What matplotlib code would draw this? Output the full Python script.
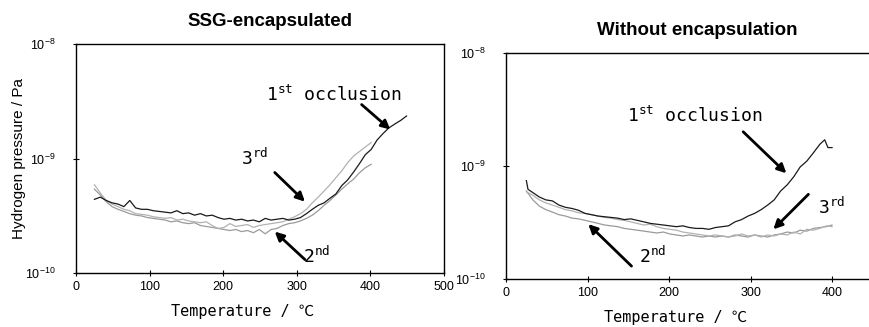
import matplotlib
matplotlib.use("Agg")
import matplotlib.pyplot as plt
from matplotlib import font_manager
import numpy as np

# ---------------- data (pressure in units of 1e-10 Pa) ----------------
temp_L1 = [25, 33, 41, 49, 57, 65, 73, 81, 89, 97, 105, 113, 121, 129, 137, 145, 153, 161, 169, 177,
           185, 193, 201, 209, 217, 225, 233, 241, 249, 257, 265, 273, 281, 289, 297, 305, 313, 321,
           329, 337, 345, 353, 361, 369, 377, 385, 393, 401, 409, 417, 425, 433, 441, 449]
left_1st = [4.4, 4.6, 4.3, 4.1, 4.0, 3.8, 4.3, 3.7, 3.6, 3.6, 3.5, 3.45, 3.4, 3.35, 3.5, 3.3, 3.35, 3.2,
            3.3, 3.15, 3.2, 3.05, 2.95, 3.0, 2.9, 2.95, 2.85, 2.9, 2.8, 3.0, 2.9, 2.95, 3.0, 2.9, 2.95,
            3.05, 3.3, 3.6, 3.9, 4.1, 4.5, 4.9, 5.8, 6.5, 7.6, 9.0, 10.8, 12.0, 14.5, 16.5, 18.5, 20.0,
            21.5, 23.5]

temp_L23 = [25, 33, 41, 49, 57, 65, 73, 81, 89, 97, 105, 113, 121, 129, 137, 145, 153, 161, 169, 177,
            185, 193, 201, 209, 217, 225, 233, 241, 249, 257, 265, 273, 281, 289, 297, 305, 313, 321,
            329, 337, 345, 353, 361, 369, 377, 385, 393, 401]
left_3rd = [5.9, 5.0, 4.3, 4.0, 3.8, 3.6, 3.5, 3.3, 3.25, 3.2, 3.1, 3.05, 3.0, 3.05, 2.9, 2.95, 2.85,
            2.8, 2.75, 2.8, 2.6, 2.45, 2.5, 2.7, 2.55, 2.6, 2.65, 2.5, 2.6, 2.65, 2.7, 2.75, 2.8, 2.95,
            3.1, 3.3, 3.6, 4.1, 4.6, 5.2, 5.9, 6.8, 7.8, 9.2, 10.5, 11.5, 12.6, 13.8]
left_2nd = [5.4, 4.8, 4.2, 3.8, 3.6, 3.45, 3.3, 3.2, 3.15, 3.05, 3.0, 2.95, 2.9, 2.8, 2.85, 2.75, 2.7,
            2.75, 2.6, 2.55, 2.5, 2.45, 2.4, 2.35, 2.4, 2.3, 2.35, 2.25, 2.4, 2.2, 2.4, 2.45, 2.6, 2.7,
            2.75, 2.85, 3.0, 3.2, 3.5, 3.9, 4.3, 4.8, 5.4, 6.0, 6.6, 7.5, 8.3, 8.9]

temp_R1 = [25, 27, 33, 41, 49, 57, 65, 73, 81, 89, 97, 105, 113, 121, 129, 137, 145, 153, 161, 169,
           177, 185, 193, 201, 209, 217, 225, 233, 241, 249, 257, 265, 273, 281, 289, 297, 305, 313,
           321, 329, 337, 345, 353, 361, 369, 377, 385, 391, 395, 400]
right_1st = [7.4, 6.2, 5.8, 5.3, 5.0, 4.9, 4.5, 4.3, 4.2, 4.05, 3.8, 3.7, 3.6, 3.55, 3.5, 3.45, 3.35,
             3.4, 3.3, 3.2, 3.1, 3.05, 3.0, 2.95, 2.9, 2.95, 2.85, 2.8, 2.8, 2.75, 2.85, 2.9, 2.95,
             3.2, 3.35, 3.6, 3.8, 4.1, 4.5, 5.0, 6.0, 6.8, 8.0, 9.8, 11.0, 13.0, 15.5, 17.0, 14.5, 14.5]

temp_R23 = [25, 33, 41, 49, 57, 65, 73, 81, 89, 97, 105, 113, 121, 129, 137, 145, 153, 161, 169, 177,
            185, 193, 201, 209, 217, 225, 233, 241, 249, 257, 265, 273, 281, 289, 297, 305, 313, 321,
            329, 337, 345, 353, 361, 369, 377, 385, 393, 400]
right_2nd = [6.0, 5.0, 4.4, 4.1, 3.9, 3.7, 3.6, 3.45, 3.4, 3.3, 3.2, 3.1, 3.0, 2.95, 2.9, 2.8, 2.75,
             2.7, 2.65, 2.6, 2.55, 2.6, 2.5, 2.45, 2.4, 2.45, 2.4, 2.35, 2.4, 2.35, 2.4, 2.35, 2.45,
             2.4, 2.35, 2.45, 2.4, 2.35, 2.45, 2.5, 2.6, 2.55, 2.7, 2.65, 2.8, 2.85, 2.9, 3.0]
right_3rd = [5.9, 5.5, 5.0, 4.7, 4.5, 4.3, 4.1, 4.0, 3.85, 3.8, 3.7, 3.6, 3.5, 3.45, 3.35, 3.3, 3.2,
             3.1, 3.0, 3.05, 2.9, 2.8, 2.75, 2.7, 2.6, 2.55, 2.5, 2.45, 2.4, 2.45, 2.4, 2.35, 2.4,
             2.5, 2.4, 2.45, 2.35, 2.45, 2.4, 2.5, 2.45, 2.6, 2.5, 2.75, 2.7, 2.8, 2.95, 2.9]

titles = ["SSG-encapsulated", "Without encapsulation"]
xlabel = "Temperature / \u2103"
ylabel = "Hydrogen pressure / Pa"
x_ticks_left = [0, 100, 200, 300, 400, 500]
x_ticks_right = [0, 100, 200, 300, 400]
y_ticks = [1e-10, 1e-9, 1e-8]

# ---------------- fonts ----------------
avail = {f.name for f in font_manager.fontManager.ttflist}
narrow = "Liberation Sans Narrow" if "Liberation Sans Narrow" in avail else "Liberation Sans"
mono = ["DejaVu Sans Mono", "Noto Sans CJK JP", "DejaVu Sans"]
plt.rcParams["mathtext.default"] = "regular"
plt.rcParams["font.family"] = [narrow, "DejaVu Sans"]

SCALE = 1e-10
C_BLACK = "#1a1a1a"
C_G2 = "#9a9a9a"
C_G3 = "#b2b2b2"

fig = plt.figure(figsize=(8.7, 3.27), dpi=100)
axL = fig.add_axes([0.0874, 0.1651, 0.423, 0.7003])
axR = fig.add_axes([0.5816, 0.1468, 0.4216, 0.692])


def style(ax, xt, xmax):
    ax.set_yscale("log")
    ax.set_ylim(1e-10, 1e-8)
    ax.set_xlim(0, xmax)
    ax.set_xticks(xt)
    ax.set_xticklabels([str(v) for v in xt])
    ax.set_yticks(y_ticks)
    ax.set_yticklabels([r"$10^{-10}$", r"$10^{-9}$", r"$10^{-8}$"])
    ax.yaxis.set_minor_locator(matplotlib.ticker.NullLocator())
    ax.tick_params(axis="both", which="major", direction="inout", length=4, width=0.8,
                   labelsize=9)
    ax.tick_params(axis="y", pad=13)
    ax.tick_params(axis="x", pad=4)
    for sp in ax.spines.values():
        sp.set_linewidth(1.0)


def s(v):
    return [x * SCALE for x in v]


# left panel
axL.plot(temp_L23, s(left_2nd), color=C_G2, lw=0.9)
axL.plot(temp_L23, s(left_3rd), color=C_G3, lw=0.9)
axL.plot(temp_L1, s(left_1st), color=C_BLACK, lw=0.9)
style(axL, x_ticks_left, 500)
axL.set_xlabel(xlabel, family=mono, fontsize=11)
axL.xaxis.set_label_coords(0.451, -0.135)
axL.set_ylabel(ylabel, fontsize=11)
axL.yaxis.set_label_coords(-0.135, 0.5)
fig.text(0.31, 0.933, titles[0], ha="center", va="center", fontsize=13.5,
         fontweight="bold", family=["Liberation Sans"])

# right panel
axR.plot(temp_R23, s(right_2nd), color=C_G2, lw=0.9)
axR.plot(temp_R23, s(right_3rd), color=C_G3, lw=0.9)
axR.plot(temp_R1, s(right_1st), color=C_BLACK, lw=0.9)
style(axR, x_ticks_right, 450)
axR.set_xlabel(xlabel, family=mono, fontsize=11)
axR.xaxis.set_label_coords(0.461, -0.138)
fig.text(0.801, 0.908, titles[1], ha="center", va="center", fontsize=13.5,
         fontweight="bold", family=["Liberation Sans"])

arrow = dict(arrowstyle="-|>", lw=2.0, color="black", mutation_scale=13, shrinkA=0, shrinkB=0)
tkw = dict(family=mono, fontsize=13, color="black", ha="center", va="center")

# left annotations
axL.text(350, 3.6e-9, r"1$^{\mathregular{st}}$ occlusion", **tkw)
axL.annotate("", xy=(427, 1.79e-9), xytext=(388, 2.96e-9), arrowprops=arrow)
axL.text(243, 1.0e-9, r"3$^{\mathregular{rd}}$", **tkw)
axL.annotate("", xy=(311, 4.2e-10), xytext=(270, 7.55e-10), arrowprops=arrow)
axL.text(327, 1.39e-10, r"2$^{\mathregular{nd}}$", **tkw)
axL.annotate("", xy=(270, 2.3e-10), xytext=(311, 1.31e-10), arrowprops=arrow)

# right annotations
axR.text(232, 2.77e-9, r"1$^{\mathregular{st}}$ occlusion", **tkw)
axR.annotate("", xy=(344, 8.6e-10), xytext=(291, 2.0e-9), arrowprops=arrow)
axR.text(399, 4.3e-10, r"3$^{\mathregular{rd}}$", **tkw)
axR.annotate("", xy=(328, 2.75e-10), xytext=(371, 5.6e-10), arrowprops=arrow)
axR.text(180, 1.6e-10, r"2$^{\mathregular{nd}}$", **tkw)
axR.annotate("", xy=(101, 3.05e-10), xytext=(154, 1.3e-10), arrowprops=arrow)

fig.savefig("out.png", dpi=100)
